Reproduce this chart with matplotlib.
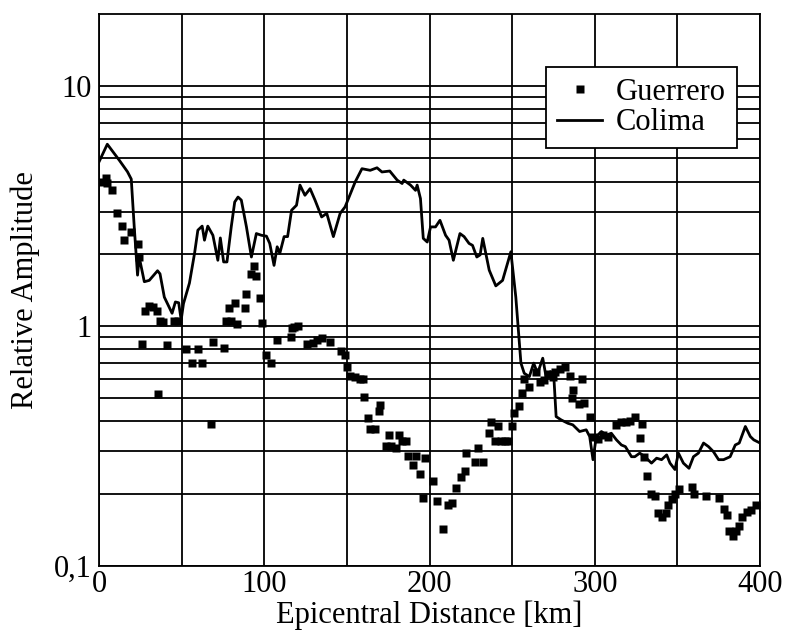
import matplotlib
matplotlib.use("Agg")
import matplotlib.pyplot as plt
from matplotlib.ticker import FixedLocator, NullFormatter

plt.rcParams['font.family'] = ['Liberation Serif', 'DejaVu Serif']

# Colima (solid line)
colima_x = [0, 5, 12.2, 17.2, 19.5, 21.3, 23.3, 24.3, 27.4, 30.4, 35.4, 36.9, 39.5, 44.2, 46.2, 48.2,
            49.7, 51.1, 54.7, 57.8, 59.8, 62.4, 63.8, 65.8, 68.9, 71.9, 73.4, 75.4, 77.4, 80, 82.1,
            84.1, 86.1, 89.2, 92.2, 95.2, 98.3, 101.3, 103.3, 105.9, 107.8, 109.4, 112, 114.1, 116.5,
            119.5, 121.6, 124.6, 127.7, 130.7, 134.7, 137.8, 141.8, 145.9, 148.9, 155, 159.1, 164.1,
            168.2, 171.2, 175.9, 180.4, 183.4, 184.4, 188.5, 191.5, 192.5, 194.5, 196.2, 198.6, 200.6,
            203.6, 206.3, 209.7, 211.8, 214.4, 218.4, 220.9, 223.9, 226, 228.6, 230.6, 232.2, 236.1,
            240.1, 244.2, 249.2, 252.2, 255.3, 257.3, 260.4, 263, 265.4, 268.5, 270.5, 273.1, 275.2,
            276.6, 279.6, 283.7, 286.7, 290.8, 294.8, 296.9, 298.9, 300.9, 304, 307, 310, 313.1,
            316.1, 318.5, 322.2, 324.2, 327.2, 330.3, 334.3, 337.4, 340.4, 343.5, 345.5, 348.5, 350.6,
            353.6, 357, 359.7, 362.7, 365.8, 368.8, 371.8, 374.9, 377.9, 381.9, 385, 387.4, 391.1,
            394.1, 396.2, 400]
colima_y = [4.84, 5.73, 4.92, 4.4, 4.1, 2.59, 1.63, 1.94, 1.53, 1.55, 1.70, 1.65, 1.32, 1.13, 1.26, 1.25,
            1.06, 1.24, 1.51, 2.01, 2.51, 2.61, 2.28, 2.61, 2.39, 1.88, 2.33, 1.85, 1.85, 2.59, 3.29,
            3.45, 3.35, 2.59, 1.94, 2.43, 2.39, 2.37, 2.21, 1.79, 2.14, 2.01, 2.36, 2.36, 3.04,
            3.19, 3.87, 3.51, 3.74, 3.35, 2.85, 2.95, 2.36, 2.95, 3.14, 3.99, 4.53, 4.46,
            4.57, 4.39, 4.43, 4.06, 3.93, 4.06, 3.87, 3.68, 3.87, 3.40, 2.32, 2.24, 2.59,
            2.59, 2.76, 2.39, 2.28, 1.88, 2.43, 2.36, 2.21, 2.17, 1.94, 1.98, 2.32, 1.71,
            1.47, 1.55, 2.04, 1.32, 0.70, 0.635, 0.615, 0.70, 0.635, 0.734, 0.615, 0.645, 0.615,
            0.419, 0.406, 0.393, 0.387, 0.363, 0.369, 0.346, 0.277, 0.346, 0.363, 0.351, 0.357, 0.335,
            0.319, 0.314, 0.285, 0.285, 0.295, 0.285, 0.268, 0.281, 0.277, 0.290, 0.268, 0.252, 0.295,
            0.268, 0.255, 0.285, 0.295, 0.325, 0.314, 0.299, 0.277, 0.277, 0.285, 0.319, 0.325, 0.381,
            0.346, 0.335, 0.325]

# Guerrero (squares)
guerrero_x = [2.0, 4.1, 5.0, 8.1, 11.1, 13.6, 15.4, 19.3, 23.3, 24.3, 25.7, 27.8, 30.4, 32.4, 35.1, 35.9,
              37.1, 38.5, 41.2, 45.6, 47.6, 52.7, 56.3, 59.8, 62.4, 67.9, 68.9, 75.8, 76.6, 78.6, 79.6,
              82.1, 83.7, 88.3, 89.2, 91.8, 93.8, 95.2, 97.3, 98.9, 100.9, 103.8, 107.4, 115.9, 116.5,
              117.7, 120.6, 125.7, 129.7, 131.7, 134.8, 139.8, 146.3, 148.9, 149.9, 151.9, 155, 158,
              159.8, 160.4, 162.5, 164.1, 167.1, 170.2, 169.6, 173.8, 175.4, 176.8, 179.4, 181.5, 183.5,
              185.5, 186.9, 190, 192, 194.5, 196.1, 197.2, 201.8, 204.3, 207.9, 211.4, 213.8, 216,
              218.9, 221.3, 222.3, 227.4, 229.4, 232.6, 235.7, 237.3, 239.8, 241.2, 243.2, 245.6,
              247.6, 249.9, 251.3, 254.3, 255.9, 257.3, 260.4, 264.4, 267, 269.5, 271.9, 274.6, 276,
              279.2, 282.1, 284.7, 286.7, 286.3, 290.2, 293.4, 292.4, 296.9, 298.9, 302, 305, 307.7,
              313.1, 315.8, 318.6, 321, 324.2, 328.3, 327.2, 329.9, 331.8, 334, 336.5, 338, 340.4,
              342.9, 344.5, 346.9, 348.5, 351.2, 358.7, 360.3, 367.2, 374.9, 377.9, 380, 381, 383.6,
              385.6, 387.4, 389.1, 392.1, 394.7, 397.6]
guerrero_y = [4.0, 4.15, 3.96, 3.68, 2.97, 2.61, 2.28, 2.47, 2.19, 1.94, 0.839, 1.15, 1.21, 1.20, 1.15, 0.521,
              1.05, 1.04, 0.831, 1.05, 1.05, 0.80, 0.70, 0.80, 0.70, 0.391, 0.858, 0.812, 1.05, 1.19, 1.05,
              1.25, 1.02, 1.19, 1.36, 1.64, 1.78, 1.62, 1.31, 1.03, 0.76, 0.70, 0.874, 0.897, 0.978,
              0.99, 1.0, 0.839, 0.852, 0.874, 0.889, 0.86, 0.789, 0.757, 0.677, 0.619, 0.615, 0.60,
              0.60, 0.505, 0.413, 0.371, 0.371, 0.469, 0.44, 0.316, 0.351, 0.316, 0.309, 0.351, 0.333,
              0.333, 0.287, 0.264, 0.287, 0.242, 0.191, 0.281, 0.226, 0.187, 0.142, 0.179, 0.183, 0.211,
              0.234, 0.249, 0.296, 0.272, 0.311, 0.272, 0.357, 0.396, 0.333, 0.384, 0.33, 0.33,
              0.333, 0.384, 0.432, 0.462, 0.527, 0.60, 0.559, 0.645, 0.586, 0.596, 0.631, 0.615, 0.645,
              0.66, 0.677, 0.62, 0.541, 0.50, 0.473, 0.479, 0.60, 0.416, 0.344, 0.337, 0.351, 0.346,
              0.387, 0.396, 0.396, 0.40, 0.416, 0.39, 0.34, 0.285, 0.237, 0.20, 0.196, 0.166, 0.16,
              0.166, 0.179, 0.19, 0.20, 0.21, 0.213, 0.20, 0.196, 0.192, 0.173, 0.163, 0.139, 0.133,
              0.139, 0.147, 0.16, 0.168, 0.171, 0.179]

y_ticks = [0.1, 1, 10]
y_tick_labels = ['0,1', '1', '10']
x_ticks = [0, 100, 200, 300, 400]

fig = plt.figure(figsize=(7.86, 6.4), dpi=100)
ax = fig.add_axes([0.126, 0.116, 0.841, 0.862])

ax.plot(guerrero_x, guerrero_y, 's', color='black', ms=6, mec='none', label='Guerrero', zorder=3)
ax.plot(colima_x, colima_y, '-', color='black', lw=2.0, label='Colima', zorder=3)

ax.set_yscale('log')
ax.set_xlim(0, 400)
ax.set_ylim(0.1, 20)

ax.yaxis.set_major_locator(FixedLocator(y_ticks))
ax.set_yticklabels(y_tick_labels)
minor = [m * d for d in (0.1, 1) for m in range(2, 10)]
ax.yaxis.set_minor_locator(FixedLocator(minor))
ax.yaxis.set_minor_formatter(NullFormatter())
ax.set_xticks(x_ticks)
ax.xaxis.set_minor_locator(FixedLocator([50, 150, 250, 350]))

ax.grid(True, which='both', color='black', lw=1.3)
ax.tick_params(which='both', length=0, labelsize=22)
ax.tick_params(axis='x', pad=3)
ax.tick_params(axis='y', pad=5)
for s in ax.spines.values():
    s.set_linewidth(1.3)

ax.set_xlabel('Epicentral Distance [km]', fontsize=22, labelpad=1)
ax.set_ylabel('Relative Amplitude', fontsize=22, labelpad=10)

leg = ax.legend(loc='upper right', bbox_to_anchor=(0.965, 0.904), fontsize=22, frameon=True,
                fancybox=False, edgecolor='black', framealpha=1, borderpad=0.35,
                handlelength=1.5, handletextpad=0.45, labelspacing=0.05, borderaxespad=0,
                markerscale=0.9)
leg.get_frame().set_linewidth(1.3)

fig.savefig('out.png', dpi=100)
